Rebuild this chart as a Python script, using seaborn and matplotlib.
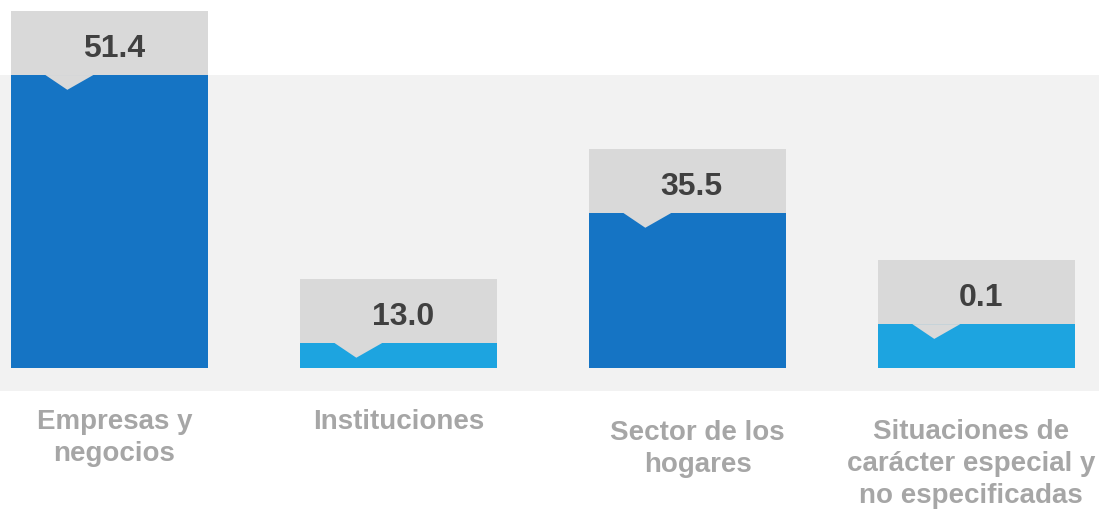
import numpy as np
import pandas as pd
import seaborn as sns
import matplotlib.pyplot as plt
from matplotlib.patches import Polygon

# values shown in the label boxes
categories = ["Empresas y\nnegocios", "Instituciones", "Sector de los\nhogares",
              "Situaciones de\ncarácter especial y\nno especificadas"]
values = [51.4, 13.0, 35.5, 0.1]
value_labels = ["51.4", "13.0", "35.5", "0.1"]
# bar lengths as drawn in the picture (the source does not draw them to scale)
bar_heights = [51.4, 4.4, 27.2, 7.7]
bar_colors = ["#1574C4", "#1DA4E0", "#1574C4", "#1DA4E0"]

# styling
BAND = "#F2F2F2"
BOX = "#D9D9D9"
VALUE_TXT = "#404040"
CAT_TXT = "#A6A6A6"
BAR_W = 0.68
BOX_H = 11.2
NOTCH_D = 2.6
label_drop = [0.0, 0.0, 2.0, 1.8]
label_shift = [0.017, 0.0, 0.035, -0.02]

sns.set_theme(style="white")
plt.rcParams["font.family"] = ["Liberation Sans", "DejaVu Sans"]

df = pd.DataFrame({"cat": categories, "h": bar_heights})

fig = plt.figure(figsize=(10.99, 5.11), dpi=100)
ax = fig.add_axes([0, 0, 1, 1])

# light grey band behind the bars
ax.axhspan(-4.0, bar_heights[0], color=BAND, zorder=0, lw=0)

sns.barplot(data=df, x="cat", y="h", hue="cat", palette=bar_colors,
            legend=False, width=BAR_W, saturation=1, ax=ax, zorder=2,
            linewidth=0, edgecolor="none")

x = np.arange(len(categories))
# grey label boxes sitting on each bar
ax.bar(x, BOX_H, bottom=bar_heights, width=BAR_W, color=BOX, lw=0, zorder=3)

for i, (h, lab) in enumerate(zip(bar_heights, value_labels)):
    left = x[i] - BAR_W / 2
    notch = Polygon([(left + 0.118, h), (left + 0.194, h - NOTCH_D), (left + 0.284, h)],
                    closed=True, facecolor=BOX, edgecolor="none", zorder=4)
    ax.add_patch(notch)
    ax.text(x[i] + 0.015, h + BOX_H / 2 - 1.0, lab, ha="center", va="center",
            fontsize=23, fontweight="bold", color=VALUE_TXT, zorder=5)
    ax.text(x[i] + label_shift[i], -7.2 - label_drop[i], categories[i],
            ha="center", va="top", fontsize=20, fontweight="bold",
            color=CAT_TXT, linespacing=1.3)

ax.set_xlim(-0.379, 3.424)
ax.set_ylim(-25.09, 64.56)
ax.axis("off")

fig.savefig("out.png", dpi=100)
